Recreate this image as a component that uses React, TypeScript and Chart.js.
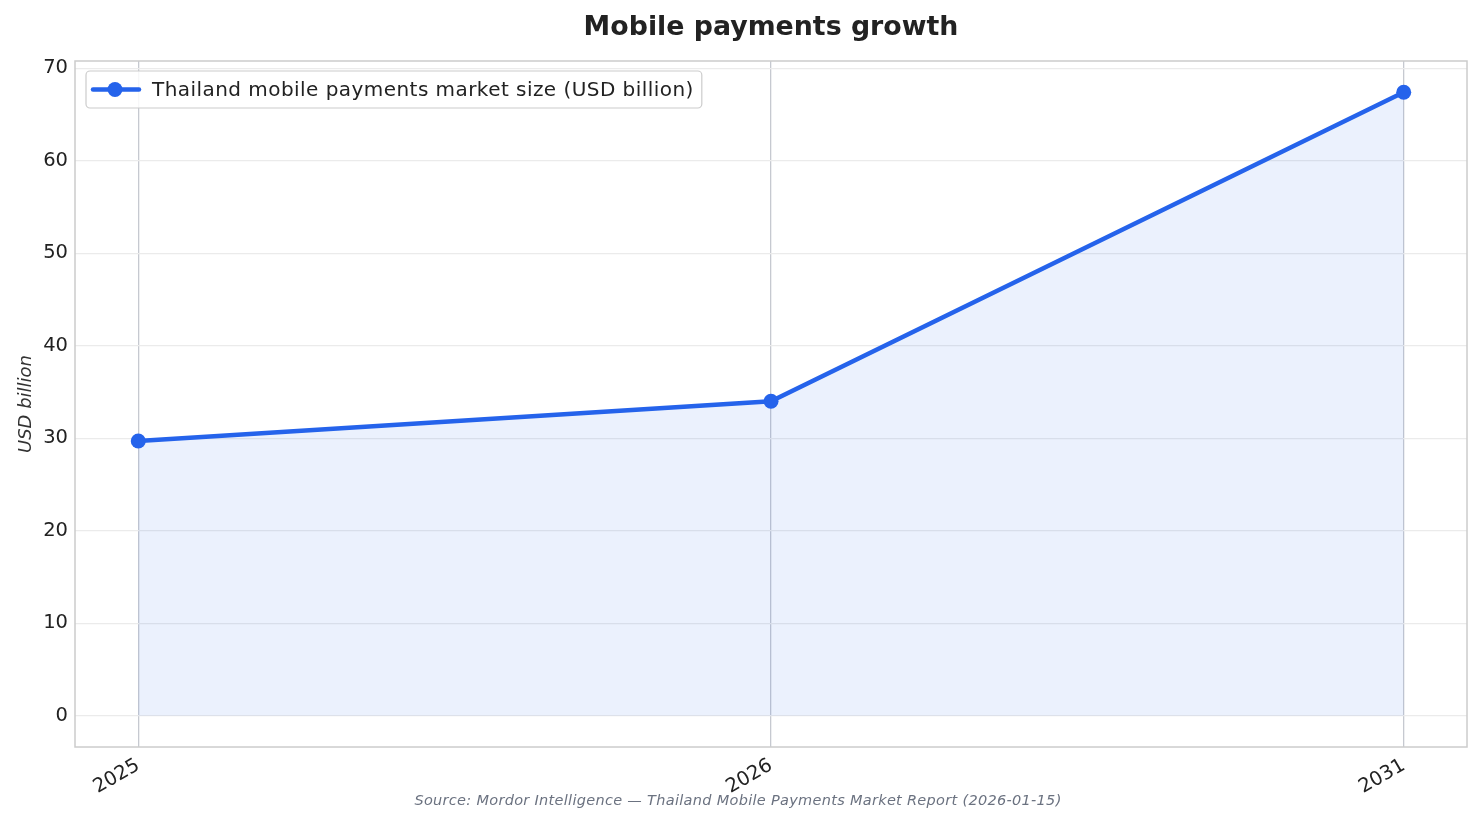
import React, { useEffect, useRef } from "react";
import { Chart, registerables } from "chart.js";

Chart.register(...registerables);

const years = ["2025", "2026", "2031"];
const marketSize = [29.7, 34.0, 67.4];
const yTickValues = [0, 10, 20, 30, 40, 50, 60, 70];
const titleText = "Mobile payments growth";
const seriesLabel = "Thailand mobile payments market size (USD billion)";
const yAxisLabel = "USD billion";
const sourceText = "Source: Mordor Intelligence — Thailand Mobile Payments Market Report (2026-01-15)";

const FONT = "'DejaVu Sans', 'Liberation Sans', sans-serif";
const LINE = "#2563eb";

export default function App() {
  const ref = useRef<HTMLCanvasElement | null>(null);

  useEffect(() => {
    document.body.style.margin = "0";
    const canvas = ref.current;
    if (!canvas) return;

    const dataMax = Math.max(...marketSize);
    const margin = (dataMax - 0) * 0.05;

    const decor = {
      id: "decor",
      afterDraw(chart: any) {
        const { ctx, chartArea } = chart;
        const { left, right, top, bottom } = chartArea;
        ctx.save();
        // frame
        ctx.strokeStyle = "#cccccc";
        ctx.lineWidth = 1.5;
        ctx.strokeRect(left, top, right - left, bottom - top);

        // title
        ctx.fillStyle = "#222222";
        ctx.font = `bold 26.8px ${FONT}`;
        ctx.textAlign = "center";
        ctx.textBaseline = "alphabetic";
        ctx.fillText(titleText, (left + right) / 2, 35);

        // y axis title
        ctx.save();
        ctx.translate(31, (top + bottom) / 2);
        ctx.rotate(-Math.PI / 2);
        ctx.font = `italic 18px ${FONT}`;
        ctx.fillStyle = "#333333";
        ctx.textAlign = "center";
        ctx.textBaseline = "alphabetic";
        ctx.fillText(yAxisLabel, 0, 0);
        ctx.restore();

        // source
        ctx.save();
        ctx.font = `italic 14.5px ${FONT}`;
        (ctx as any).letterSpacing = "0.3px";
        ctx.fillStyle = "#6b7280";
        ctx.textAlign = "center";
        ctx.fillText(sourceText, 738, 805);
        ctx.restore();

        // legend
        const ds = chart.data.datasets[0];
        ctx.save();
        ctx.font = `20px ${FONT}`;
        (ctx as any).letterSpacing = "0.45px";
        const tw = ctx.measureText(ds.label).width;
        const bx = left + 11;
        const by = top + 10;
        const bw = 66 + tw + 8;
        const bh = 37;
        ctx.beginPath();
        const r = 4;
        ctx.moveTo(bx + r, by);
        ctx.arcTo(bx + bw, by, bx + bw, by + bh, r);
        ctx.arcTo(bx + bw, by + bh, bx, by + bh, r);
        ctx.arcTo(bx, by + bh, bx, by, r);
        ctx.arcTo(bx, by, bx + bw, by, r);
        ctx.closePath();
        ctx.fillStyle = "rgba(255,255,255,0.85)";
        ctx.fill();
        ctx.strokeStyle = "#cccccc";
        ctx.lineWidth = 1.2;
        ctx.stroke();
        const my = by + bh / 2;
        ctx.strokeStyle = ds.borderColor;
        ctx.lineWidth = 4.5;
        ctx.lineCap = "round";
        ctx.beginPath();
        ctx.moveTo(bx + 7, my);
        ctx.lineTo(bx + 53, my);
        ctx.stroke();
        ctx.fillStyle = ds.pointBackgroundColor;
        ctx.beginPath();
        ctx.arc(bx + 29, my, 7.5, 0, Math.PI * 2);
        ctx.fill();
        ctx.fillStyle = "#222222";
        ctx.textAlign = "left";
        ctx.textBaseline = "middle";
        ctx.fillText(ds.label, bx + 66, my + 1);
        ctx.restore();
        ctx.restore();
      },
    };

    const chart = new Chart(canvas, {
      type: "line",
      data: {
        datasets: [
          {
            label: seriesLabel,
            data: marketSize.map((v, i) => ({ x: i, y: v })),
            borderColor: LINE,
            backgroundColor: "rgba(37,99,235,0.09)",
            pointBackgroundColor: LINE,
            pointBorderWidth: 0,
            pointRadius: 7.5,
            borderWidth: 4.5,
            fill: "origin",
            tension: 0,
          },
        ],
      },
      options: {
        animation: false,
        responsive: true,
        maintainAspectRatio: false,
        devicePixelRatio: 1,
        layout: { padding: { top: 61, right: 14, left: 0, bottom: 0 } },
        plugins: {
          legend: { display: false },
          title: { display: false },
          tooltip: { enabled: false },
        },
        scales: {
          x: {
            type: "linear",
            min: -0.1,
            max: 2.1,
            afterBuildTicks: (scale: any) => {
              scale.ticks = years.map((_, i) => ({ value: i }));
            },
            afterFit: (scale: any) => {
              scale.height = 77;
            },
            ticks: {
              callback: (v: any) => years[Math.round(Number(v))] ?? "",
              minRotation: 30,
              maxRotation: 30,
              padding: 7,
              color: "#222222",
              font: { family: FONT, size: 19.5 },
              autoSkip: false,
            },
            grid: {
              color: "#c6c9d0",
              lineWidth: 1.3,
              drawTicks: false,
            },
            border: { display: false },
          },
          y: {
            type: "linear",
            min: 0 - margin,
            max: dataMax + margin,
            afterBuildTicks: (scale: any) => {
              scale.ticks = yTickValues.map((v) => ({ value: v }));
            },
            afterFit: (scale: any) => {
              scale.width = 75;
            },
            ticks: {
              padding: 7,
              color: "#222222",
              font: { family: FONT, size: 19.5 },
            },
            grid: {
              color: "#ebebeb",
              lineWidth: 1.2,
              drawTicks: false,
            },
            border: { display: false },
          },
        },
      },
      plugins: [decor],
    });

    return () => chart.destroy();
  }, []);

  return (
    <div style={{ position: "absolute", left: 0, top: 0, width: 1481, height: 824, background: "#fff" }}>
      <canvas ref={ref} />
    </div>
  );
}
